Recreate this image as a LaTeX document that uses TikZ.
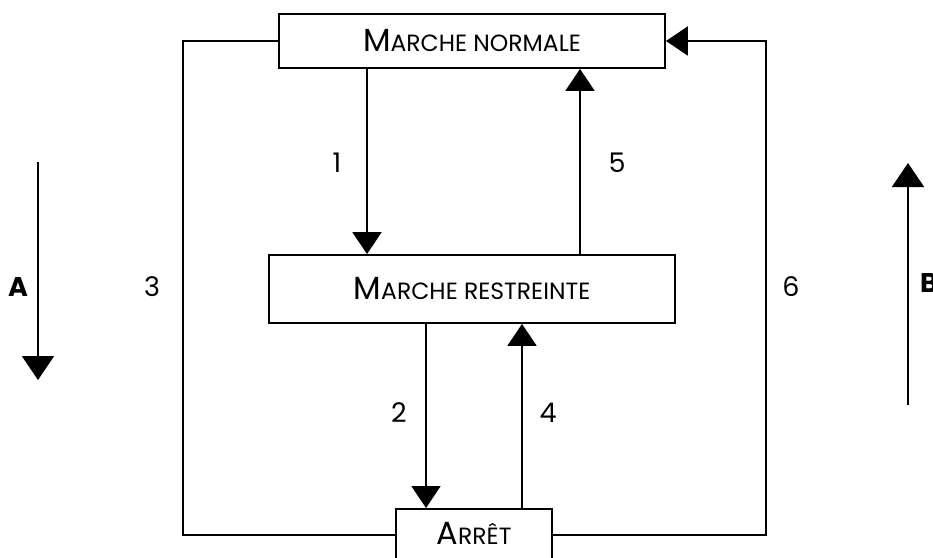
\documentclass[tikz,border=0pt]{standalone}
\usepackage{fontspec}
\setmainfont{Poppins}
\usetikzlibrary{arrows.meta}

% small-caps look: large initial, smaller rest
\newcommand\initcaps[2]{{\fontsize{32}{34}\selectfont #1}{\fontsize{23.5}{27}\selectfont #2}}

\tikzset{
  box/.style={draw, line width=1.8pt, fill=white, inner sep=0pt},
  wire/.style={line width=1.8pt},
  tri/.style={wire, -{Triangle[length=22pt, width=29pt]}},
  num/.style={font=\fontsize{27}{30}\selectfont, inner sep=0pt},
  side/.style={font=\fontsize{27}{30}\selectfont\bfseries, inner sep=0pt},
}

\begin{document}
\begin{tikzpicture}[x=1pt, y=-1pt]
  \useasboundingbox (0,0) rectangle (933,557);

  % state boxes
  \node[box, minimum width=386pt, minimum height=54pt] (mn) at (472,41)
    {\initcaps{M}{ARCHE NORMALE}};
  \node[box, minimum width=406pt, minimum height=68pt] (mr) at (472,289)
    {\initcaps{M}{ARCHE RESTREINTE}};
  \node[box, minimum width=156pt, minimum height=70pt, anchor=north] (ar) at (474,508) {};
  \node[inner sep=0pt] (artxt) at (474,533) {\initcaps{A}{RRÊT}};

  % helper points for the connectors
  \coordinate (c1) at (367,0);
  \coordinate (c5) at (580,0);
  \coordinate (c2) at (426,0);
  \coordinate (c4) at (522,0);
  \coordinate (lc) at (183,535);
  \coordinate (rc) at (766,535);

  % transitions
  \draw[tri] (mn.south -| c1) -- (mr.north -| c1);
  \draw[tri] (mr.north -| c5) -- (mn.south -| c5);
  \draw[tri] (mr.south -| c2) -- (ar.north -| c2);
  \draw[tri] (ar.north -| c4) -- (mr.south -| c4);
  \draw[wire] (mn.west) -| (lc) -- (ar.west |- lc);
  \draw[tri] (ar.east |- rc) -- (rc) |- (mn.east);

  % transition numbers
  \node[num] (n1) at (337,163) {1};
  \node[num] (n5) at (617,163) {5};
  \node[num] (n2) at (399,413) {2};
  \node[num] (n4) at (548,413) {4};
  \node[num] (n3) at (152,287) {3};
  \node[num] (n6) at (791,287) {6};

  % direction arrows
  \coordinate (at) at (38,162);
  \coordinate (ab) at (38,380);
  \coordinate (bt) at (908,163);
  \coordinate (bb) at (908,405);
  \draw[tri, -{Triangle[length=24pt, width=32pt]}] (at) -- (ab);
  \draw[tri, -{Triangle[length=24pt, width=32pt]}] (bb) -- (bt);
  \node[side] (la) at (18,287) {A};
  \node[side, anchor=west] (lb) at (920,283) {B};
\end{tikzpicture}
\end{document}
